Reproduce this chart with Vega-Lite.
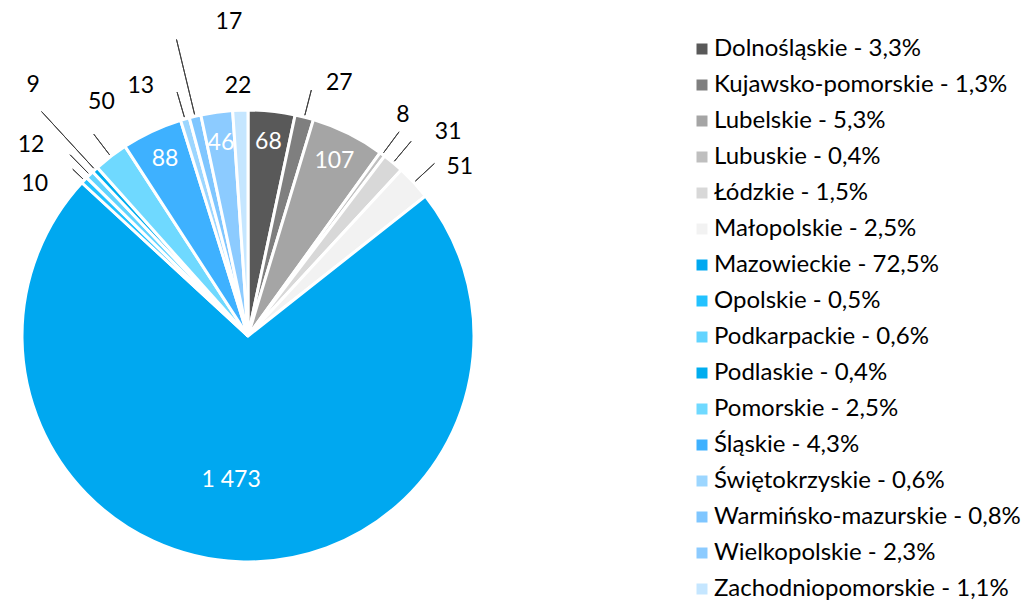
{
  "$schema": "https://vega.github.io/schema/vega-lite/v6.json",
  "width": 496,
  "height": 534,
  "autosize": {"type": "none"},
  "padding": {"left": 0, "top": 69, "right": 538, "bottom": 0},
  "background": "white",
  "data": {
    "values": [
      {"idx": 1, "name": "Dolnośląskie", "legend": "Dolnośląskie - 3,3%", "value": 68},
      {"idx": 2, "name": "Kujawsko-pomorskie", "legend": "Kujawsko-pomorskie - 1,3%", "value": 27},
      {"idx": 3, "name": "Lubelskie", "legend": "Lubelskie - 5,3%", "value": 107},
      {"idx": 4, "name": "Lubuskie", "legend": "Lubuskie - 0,4%", "value": 8},
      {"idx": 5, "name": "Łódzkie", "legend": "Łódzkie - 1,5%", "value": 31},
      {"idx": 6, "name": "Małopolskie", "legend": "Małopolskie - 2,5%", "value": 51},
      {"idx": 7, "name": "Mazowieckie", "legend": "Mazowieckie - 72,5%", "value": 1473},
      {"idx": 8, "name": "Opolskie", "legend": "Opolskie - 0,5%", "value": 10},
      {"idx": 9, "name": "Podkarpackie", "legend": "Podkarpackie - 0,6%", "value": 12},
      {"idx": 10, "name": "Podlaskie", "legend": "Podlaskie - 0,4%", "value": 9},
      {"idx": 11, "name": "Pomorskie", "legend": "Pomorskie - 2,5%", "value": 50},
      {"idx": 12, "name": "Śląskie", "legend": "Śląskie - 4,3%", "value": 88},
      {"idx": 13, "name": "Świętokrzyskie", "legend": "Świętokrzyskie - 0,6%", "value": 13},
      {"idx": 14, "name": "Warmińsko-mazurskie", "legend": "Warmińsko-mazurskie - 0,8%", "value": 17},
      {"idx": 15, "name": "Wielkopolskie", "legend": "Wielkopolskie - 2,3%", "value": 46},
      {"idx": 16, "name": "Zachodniopomorskie", "legend": "Zachodniopomorskie - 1,1%", "value": 22}
    ]
  },
  "encoding": {
    "theta": {"field": "value", "type": "quantitative", "stack": true},
    "order": {"field": "idx", "type": "quantitative"}
  },
  "layer": [
    {
      "mark": {"type": "arc", "outerRadius": 226, "stroke": "white", "strokeWidth": 3},
      "encoding": {
        "color": {
          "field": "legend",
          "type": "nominal",
          "scale": {
            "domain": ["Dolnośląskie - 3,3%", "Kujawsko-pomorskie - 1,3%", "Lubelskie - 5,3%", "Lubuskie - 0,4%", "Łódzkie - 1,5%", "Małopolskie - 2,5%", "Mazowieckie - 72,5%", "Opolskie - 0,5%", "Podkarpackie - 0,6%", "Podlaskie - 0,4%", "Pomorskie - 2,5%", "Śląskie - 4,3%", "Świętokrzyskie - 0,6%", "Warmińsko-mazurskie - 0,8%", "Wielkopolskie - 2,3%", "Zachodniopomorskie - 1,1%"],
            "range": ["#595959", "#7f7f7f", "#a5a5a5", "#bfbfbf", "#d8d8d8", "#f2f2f2", "#00a8f0", "#23c2ff", "#62d4ff", "#00adef", "#6fd9ff", "#3eb1ff", "#9cd6ff", "#7fc6ff", "#8ccbff", "#c5e6ff"]
          },
          "legend": {
            "title": null,
            "orient": "none",
            "legendX": 690,
            "legendY": -32,
            "symbolType": "square",
            "symbolSize": 121,
            "symbolStrokeWidth": 0,
            "labelFont": "Lato",
            "labelFontSize": 24,
            "labelColor": "#000000",
            "labelLimit": 600,
            "rowPadding": 12,
            "labelOffset": 0,
            "padding": 0
          }
        }
      }
    },
    {
      "mark": {"type": "arc", "innerRadius": 228, "outerRadius": 254, "padAngle": 0.5, "fillOpacity": 0, "stroke": "#404040", "strokeWidth": 1},
      "encoding": {"strokeOpacity": {"condition": {"test": "indexof(['Kujawsko-pomorskie','Lubuskie','Łódzkie','Małopolskie','Podkarpackie','Pomorskie','Świętokrzyskie'], datum.name) >= 0", "value": 1}, "value": 0}}
    },
    {
      "mark": {"type": "arc", "innerRadius": 228, "outerRadius": 242, "padAngle": 0.5, "fillOpacity": 0, "stroke": "#404040", "strokeWidth": 1},
      "encoding": {"strokeOpacity": {"condition": {"test": "datum.name === 'Opolskie'", "value": 1}, "value": 0}}
    },
    {
      "mark": {"type": "arc", "innerRadius": 228, "outerRadius": 305, "padAngle": 0.5, "fillOpacity": 0, "stroke": "#404040", "strokeWidth": 1},
      "encoding": {"strokeOpacity": {"condition": {"test": "indexof(['Podlaskie','Warmińsko-mazurskie'], datum.name) >= 0", "value": 1}, "value": 0}}
    },
    {
      "mark": {"type": "text", "radius": 195, "font": "Lato", "fontSize": 23, "color": "white"},
      "encoding": {"text": {"condition": {"test": "indexof(['Dolnośląskie','Lubelskie','Śląskie','Wielkopolskie'], datum.name) >= 0", "field": "value", "type": "quantitative", "format": ",d"}, "value": ""}}
    },
    {
      "mark": {"type": "text", "radius": 145, "thetaOffset": 0.078, "font": "Lato", "fontSize": 23, "color": "white"},
      "encoding": {"text": {"condition": {"test": "datum.name === 'Mazowieckie'", "field": "value", "type": "quantitative", "format": ",d"}, "value": ""}}
    },
    {
      "mark": {"type": "text", "radius": 269, "thetaOffset": 0.094, "font": "Lato", "fontSize": 23, "color": "black"},
      "encoding": {"text": {"condition": {"test": "datum.name === 'Kujawsko-pomorskie'", "field": "value", "type": "quantitative", "format": ",d"}, "value": ""}}
    },
    {
      "mark": {"type": "text", "radius": 270, "thetaOffset": -0.026, "font": "Lato", "fontSize": 23, "color": "black"},
      "encoding": {"text": {"condition": {"test": "datum.name === 'Lubuskie'", "field": "value", "type": "quantitative", "format": ",d"}, "value": ""}}
    },
    {
      "mark": {"type": "text", "radius": 286, "thetaOffset": 0.078, "font": "Lato", "fontSize": 23, "color": "black"},
      "encoding": {"text": {"condition": {"test": "datum.name === 'Łódzkie'", "field": "value", "type": "quantitative", "format": ",d"}, "value": ""}}
    },
    {
      "mark": {"type": "text", "radius": 271, "thetaOffset": 0.073, "font": "Lato", "fontSize": 23, "color": "black"},
      "encoding": {"text": {"condition": {"test": "datum.name === 'Małopolskie'", "field": "value", "type": "quantitative", "format": ",d"}, "value": ""}}
    },
    {
      "mark": {"type": "text", "radius": 262, "thetaOffset": -0.141, "font": "Lato", "fontSize": 23, "color": "black"},
      "encoding": {"text": {"condition": {"test": "datum.name === 'Opolskie'", "field": "value", "type": "quantitative", "format": ",d"}, "value": ""}}
    },
    {
      "mark": {"type": "text", "radius": 289, "thetaOffset": -0.073, "font": "Lato", "fontSize": 23, "color": "black"},
      "encoding": {"text": {"condition": {"test": "datum.name === 'Podkarpackie'", "field": "value", "type": "quantitative", "format": ",d"}, "value": ""}}
    },
    {
      "mark": {"type": "text", "radius": 330, "thetaOffset": 0.035, "font": "Lato", "fontSize": 23, "color": "black"},
      "encoding": {"text": {"condition": {"test": "datum.name === 'Podlaskie'", "field": "value", "type": "quantitative", "format": ",d"}, "value": ""}}
    },
    {
      "mark": {"type": "text", "radius": 276, "thetaOffset": 0.0925, "font": "Lato", "fontSize": 23, "color": "black"},
      "encoding": {"text": {"condition": {"test": "datum.name === 'Pomorskie'", "field": "value", "type": "quantitative", "format": ",d"}, "value": ""}}
    },
    {
      "mark": {"type": "text", "radius": 272, "thetaOffset": -0.122, "font": "Lato", "fontSize": 23, "color": "black"},
      "encoding": {"text": {"condition": {"test": "datum.name === 'Świętokrzyskie'", "field": "value", "type": "quantitative", "format": ",d"}, "value": ""}}
    },
    {
      "mark": {"type": "text", "radius": 315, "thetaOffset": 0.176, "font": "Lato", "fontSize": 23, "color": "black"},
      "encoding": {"text": {"condition": {"test": "datum.name === 'Warmińsko-mazurskie'", "field": "value", "type": "quantitative", "format": ",d"}, "value": ""}}
    },
    {
      "mark": {"type": "text", "radius": 250, "thetaOffset": -0.006, "font": "Lato", "fontSize": 23, "color": "black"},
      "encoding": {"text": {"condition": {"test": "datum.name === 'Zachodniopomorskie'", "field": "value", "type": "quantitative", "format": ",d"}, "value": ""}}
    }
  ],
  "config": {
    "view": {"stroke": null},
    "locale": {"number": {"decimal": ",", "thousands": " ", "grouping": [3], "currency": ["", " zł"]}}
  }
}
